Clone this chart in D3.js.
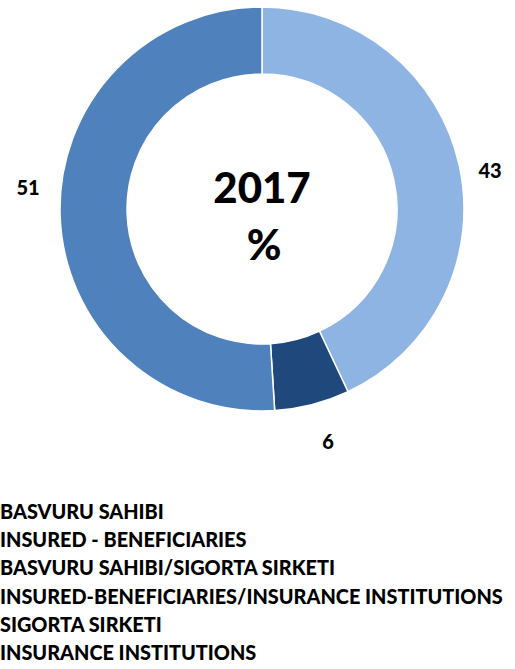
<!DOCTYPE html>
<html>
<head>
<meta charset="utf-8">
<script src="https://cdn.jsdelivr.net/npm/d3@7"></script>
<style>
  html, body { margin: 0; padding: 0; background: #fff; }
  svg { display: block; }
  text { font-family: Lato, "Open Sans", sans-serif; font-weight: 900; fill: #000; }
</style>
</head>
<body>
<svg id="chart" width="515" height="669"></svg>
<script>
// Shares of applicants, 2017 (%)
const categories = [
  "INSURED-BENEFICIARIES/INSURANCE INSTITUTIONS",
  "INSURANCE INSTITUTIONS",
  "INSURED - BENEFICIARIES"
];
const values = [43, 6, 51];
const colors = ["#8EB4E3", "#1F497D", "#4F81BD"];
const centerLines = ["2017", "%"];
const legendLines = [
  "BASVURU SAHIBI",
  "INSURED - BENEFICIARIES",
  "BASVURU SAHIBI/SIGORTA SIRKETI",
  "INSURED-BENEFICIARIES/INSURANCE INSTITUTIONS",
  "SIGORTA SIRKETI",
  "INSURANCE INSTITUTIONS"
];

const svg = d3.select("#chart");
const cx = 262, cy = 209, outerR = 202, innerR = 135;

const pie = d3.pie().sort(null).value(d => d.value);
const arcs = pie(values.map((v, i) => ({ value: v, name: categories[i], color: colors[i] })));
const arc = d3.arc().innerRadius(innerR).outerRadius(outerR);

const g = svg.append("g").attr("transform", `translate(${cx},${cy})`);
g.selectAll("path.slice")
  .data(arcs)
  .join("path")
  .attr("class", "slice")
  .attr("d", arc)
  .attr("fill", d => d.data.color)
  .attr("stroke", "#fff")
  .attr("stroke-width", 1.5);

// value labels outside the ring
const labelPos = [[228, -31], [66, 240], [-234, -14]];
g.selectAll("text.val")
  .data(arcs)
  .join("text")
  .attr("class", "val")
  .attr("x", (d, i) => labelPos[i][0])
  .attr("y", (d, i) => labelPos[i][1])
  .attr("text-anchor", "middle")
  .attr("font-size", 20)
  .text(d => d.data.value);

// centre caption
svg.append("text").attr("x", cx).attr("y", 203).attr("text-anchor", "middle")
  .attr("font-size", 42).text(centerLines[0]);
svg.append("text").attr("x", 264).attr("y", 260).attr("text-anchor", "middle")
  .attr("font-size", 42).text(centerLines[1]);

// legend text block
const leg = svg.append("g");
leg.selectAll("text")
  .data(legendLines)
  .join("text")
  .attr("x", 0)
  .attr("y", (d, i) => 519 + i * 28.2)
  .attr("font-size", 19)
  .text(d => d);
// fit the longest line to the available width
const longest = leg.selectAll("text").nodes().reduce((m, n) => Math.max(m, n.getComputedTextLength()), 0);
const k = 503 / longest;
leg.selectAll("text").attr("font-size", 19 * k);
</script>
</body>
</html>
